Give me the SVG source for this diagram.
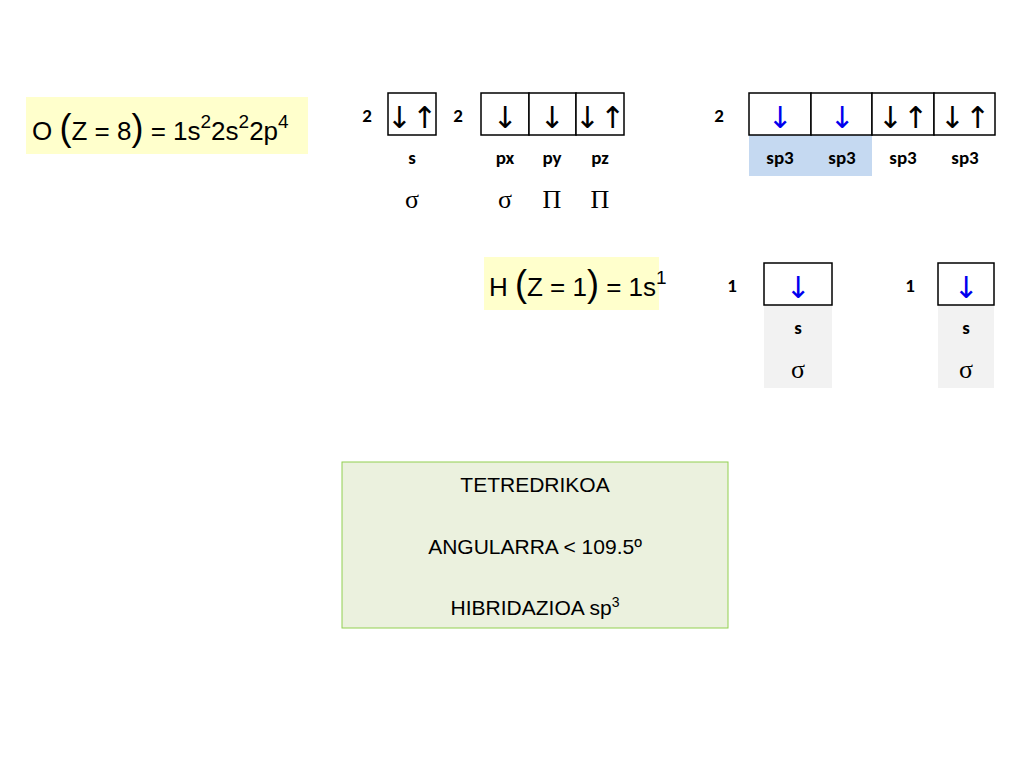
<svg xmlns="http://www.w3.org/2000/svg" width="1024" height="768" viewBox="0 0 1024 768">
<style>
.b{fill:#fff;stroke:#000;stroke-width:1.5}
.n{font-family:Carlito,"Liberation Sans",sans-serif;font-weight:bold;font-size:19px;text-anchor:middle}
.a{font-family:"DejaVu Sans",sans-serif;font-size:30px;text-anchor:middle}
.g{font-family:"Liberation Serif",serif;font-size:26px;text-anchor:middle}
.f{font-family:"Liberation Sans",sans-serif;font-size:26px}
.t{font-family:"Liberation Sans",sans-serif;font-size:21px;text-anchor:middle}
.blue{fill:#0000ee}
</style>
<rect width="1024" height="768" fill="#fff"/>
<g id="formulaO">
<rect x="26" y="97" width="282" height="57" fill="#ffffcc"/>
<text class="f" x="32" y="140">O <tspan font-size="36" font-weight="100">(</tspan>Z = 8<tspan font-size="36" font-weight="100">)</tspan> = 1s<tspan font-size="19" dy="-12">2</tspan><tspan dy="12">2s</tspan><tspan font-size="19" dy="-12">2</tspan><tspan dy="12">2p</tspan><tspan font-size="19" dy="-12">4</tspan></text>
</g>
<g id="s-orbital">
<text class="n" x="367" y="122">2</text>
<rect class="b" x="388" y="93" width="48" height="42"/>
<text class="a" x="412" y="128">↓↑</text>
<text class="n" x="412" y="164">s</text>
<text class="g" x="412" y="208">σ</text>
</g>
<g id="p-orbitals">
<text class="n" x="458" y="122">2</text>
<rect class="b" x="481" y="93" width="48" height="42"/>
<rect class="b" x="529" y="93" width="47" height="42"/>
<rect class="b" x="576" y="93" width="48" height="42"/>
<text class="a" x="505" y="128">↓</text>
<text class="a" x="552" y="128">↓</text>
<text class="a" x="600" y="128">↓↑</text>
<text class="n" x="505" y="164">px</text>
<text class="n" x="552" y="164">py</text>
<text class="n" x="600" y="164">pz</text>
<text class="g" x="505" y="208">σ</text>
<text class="g" x="552" y="208">Π</text>
<text class="g" x="600" y="208">Π</text>
</g>
<g id="sp3">
<text class="n" x="719" y="122">2</text>
<rect x="749" y="135" width="123" height="41" fill="#c5d9f1"/>
<rect class="b" x="749" y="93" width="62" height="42"/>
<rect class="b" x="811" y="93" width="61" height="42"/>
<rect class="b" x="872" y="93" width="62" height="42"/>
<rect class="b" x="934" y="93" width="61" height="42"/>
<text class="a blue" x="780" y="128">↓</text>
<text class="a blue" x="842" y="128">↓</text>
<text class="a" x="903" y="128">↓↑</text>
<text class="a" x="965" y="128">↓↑</text>
<text class="n" x="780" y="164">sp3</text>
<text class="n" x="842" y="164">sp3</text>
<text class="n" x="903" y="164">sp3</text>
<text class="n" x="965" y="164">sp3</text>
</g>
<g id="formulaH">
<rect x="484" y="257" width="175" height="53" fill="#ffffcc"/>
<text class="f" x="489" y="296">H <tspan font-size="36" font-weight="100">(</tspan>Z = 1<tspan font-size="36" font-weight="100">)</tspan> = 1s<tspan font-size="19" dy="-12">1</tspan></text>
</g>
<g id="H1">
<text class="n" x="732" y="292">1</text>
<rect x="764" y="305" width="68" height="83" fill="#f2f2f2"/>
<rect class="b" x="764" y="263" width="68" height="42"/>
<text class="a blue" x="798" y="298">↓</text>
<text class="n" x="798" y="334">s</text>
<text class="g" x="798" y="378">σ</text>
</g>
<g id="H2">
<text class="n" x="910" y="292">1</text>
<rect x="938" y="305" width="56" height="83" fill="#f2f2f2"/>
<rect class="b" x="938" y="263" width="56" height="42"/>
<text class="a blue" x="966" y="298">↓</text>
<text class="n" x="966" y="334">s</text>
<text class="g" x="966" y="378">σ</text>
</g>
<g id="summary">
<rect x="342" y="462" width="386" height="166" fill="#ebf1de" stroke="#92d050" stroke-width="1"/>
<text class="t" x="535" y="492">TETREDRIKOA</text>
<text class="t" x="535" y="554">ANGULARRA &lt; 109.5º</text>
<text class="t" x="535" y="615">HIBRIDAZIOA sp<tspan font-size="14" dy="-8">3</tspan></text>
</g>
</svg>
